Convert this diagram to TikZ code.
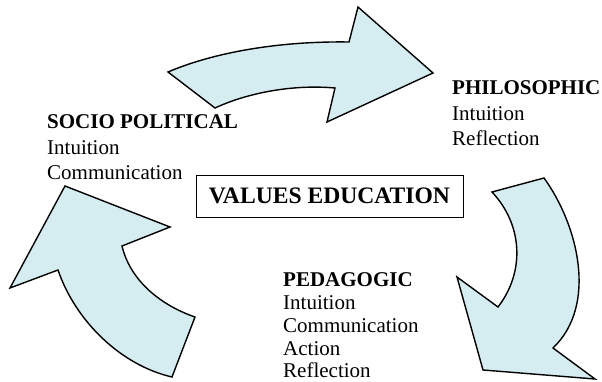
\documentclass[tikz,border=0pt]{standalone}
\usepackage{fontspec}
\setmainfont{Liberation Serif}
\definecolor{arrowfill}{RGB}{213,236,241}
\tikzset{
  bigarrow/.style={draw=black, fill=arrowfill, line width=1.4pt, line join=miter},
  headline/.style={anchor=base west, inner sep=0pt, font=\fontsize{21}{24}\selectfont\bfseries},
  itemline/.style={anchor=base west, inner sep=0pt, font=\fontsize{21}{24}\selectfont},
  titlebox/.style={draw=black, line width=0.9pt, minimum width=267pt, minimum height=42pt,
    inner sep=0pt, font=\fontsize{23.6}{26}\selectfont\bfseries}
}
\begin{document}
\begin{tikzpicture}[x=1pt,y=-1pt]
\useasboundingbox (0,0) rectangle (602,382);

% upper arrow: socio political -> philosophic
\path[bigarrow] (168,72) .. controls (215,52) and (280,41) .. (349,42)
  -- (358,7) -- (433,73) -- (327,122) -- (335,88)
  .. controls (290,84) and (245,94) .. (215,108) -- cycle;

% right arrow: philosophic -> pedagogic
\path[bigarrow] (492,192) -- (544,178)
  .. controls (578,225) and (598,305) .. (553,348)
  -- (595,379) -- (483,370) -- (457,277) -- (498,307)
  .. controls (525,272) and (523,225) .. (492,192) -- cycle;

% left arrow: pedagogic -> socio political
\path[bigarrow] (195,317) -- (172,377)
  .. controls (120,365) and (75,320) .. (58,270)
  -- (10,288) -- (65,186) -- (170,227) -- (122,246)
  .. controls (130,280) and (160,305) .. (195,317) -- cycle;

% centre title
\node[titlebox] (ve) at (329.5,196) {VALUES EDUCATION};

% socio political
\node[headline] (sp) at (47,129) {SOCIO POLITICAL};
\node[itemline] (sp1) at (47,155) {Intuition};
\node[itemline] (sp2) at (47,179) {Communication};

% philosophic
\node[headline] (ph) at (452,95) {PHILOSOPHIC};
\node[itemline] (ph1) at (452,121) {Intuition};
\node[itemline] (ph2) at (452,146) {Reflection};

% pedagogic
\node[headline] (pe) at (283,286) {PEDAGOGIC};
\node[itemline] (pe1) at (283,309) {Intuition};
\node[itemline] (pe2) at (283,332) {Communication};
\node[itemline] (pe3) at (283,355) {Action};
\node[itemline] (pe4) at (283,377) {Reflection};
\end{tikzpicture}
\end{document}
